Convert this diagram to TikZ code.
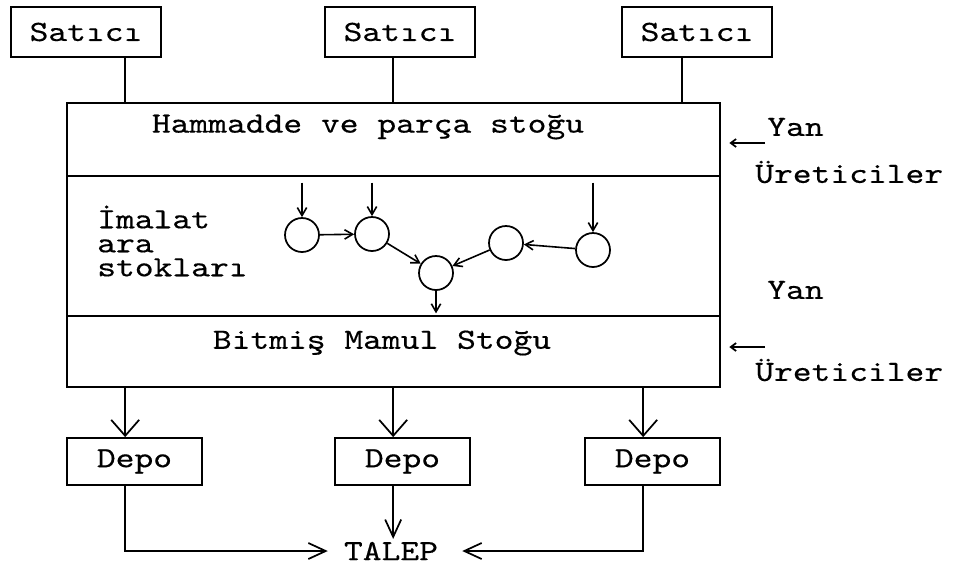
\documentclass[tikz,border=0pt]{standalone}
\usepackage{fontspec}
\setmonofont{lmmono10-regular.otf}[FakeStretch=1.22, FakeBold=0.4]
\usetikzlibrary{arrows.meta,positioning}

\begin{document}
\begin{tikzpicture}[x=0.75pt, y=-0.75pt,
    every node/.style={font=\ttfamily\fontsize{22}{16}\selectfont},
    unit/.style={draw, line width=1.3pt, minimum width=112pt, minimum height=37.5pt, inner sep=0pt},
    stock/.style={draw, line width=1.3pt, minimum width=489.75pt, inner sep=0pt, outer sep=0pt},
    depot/.style={draw, line width=1.3pt, minimum width=101.25pt, minimum height=35.25pt, inner sep=0pt},
    station/.style={draw, circle, line width=1.3pt, minimum size=25.5pt, inner sep=0pt},
    txt/.style={inner sep=0pt, align=left},
    link/.style={line width=1.3pt},
    flow/.style={line width=1.2pt, -{Straight Barb[length=6pt,width=7pt]}},
    side/.style={line width=1.3pt, -{Straight Barb[length=4pt,width=6pt]}},
    ship/.style={line width=1.3pt, -{Straight Barb[length=12pt,width=21pt]}},
    demand/.style={line width=1.3pt, -{Straight Barb[length=13pt,width=12pt]}}]
    \useasboundingbox (0,0) rectangle (966,569);
    % Suppliers
    \node[unit] (satici1) at (86,32) {Satıcı};
    \node[unit] (satici2) at (400,32) {Satıcı};
    \node[unit] (satici3) at (697,32) {Satıcı};
    % Plant: three stacked stock sections
    \node[stock, minimum height=54.75pt] (hammadde) at (393.5,139.5) {};
    \node[stock, minimum height=105pt, below=0pt of hammadde] (imalat) {};
    \node[stock, minimum height=53.25pt, below=0pt of imalat] (mamul) {};
    \node[txt] (hammaddetxt) at (368,127) {Hammadde ve parça stoğu};
    \node[txt, anchor=west, font=\ttfamily\fontsize{22}{18}\selectfont] (imalattxt) at (97,241) {İmalat\\ara\\stokları};
    \node[txt] (mamultxt) at (382,343) {Bitmiş Mamul Stoğu};
    % Supplier lines into raw stock
    \draw[link] ([xshift=29pt]satici1.south) -- ([xshift=29pt]satici1.south |- hammadde.north);
    \draw[link] ([xshift=-5pt]satici2.south) -- ([xshift=-5pt]satici2.south |- hammadde.north);
    \draw[link] ([xshift=-11pt]satici3.south) -- ([xshift=-11pt]satici3.south |- hammadde.north);
    % Work stations
    \node[station] (c1) at (302,235) {};
    \node[station] (c2) at (372,234) {};
    \node[station] (c3) at (436,273) {};
    \node[station] (c4) at (506,243) {};
    \node[station] (c5) at (593,250) {};
    \draw[flow, shorten <=5pt] (c1 |- hammadde.south) -- (c1);
    \draw[flow, shorten <=5pt] (c2 |- hammadde.south) -- (c2);
    \draw[flow, shorten <=5pt] (c5 |- hammadde.south) -- (c5);
    \draw[flow] (c1) -- (c2);
    \draw[flow] (c2) -- (c3);
    \draw[flow] (c5) -- (c4);
    \draw[flow] (c4) -- (c3);
    \draw[flow, shorten >=2pt] (c3) -- (c3 |- mamul.north);
    % Subcontractors
    \node[txt, anchor=west] (yan1) at (767,127) {Yan};
    \node[txt, anchor=west] (uretici1) at (755,172) {Üreticiler};
    \node[txt, anchor=west] (yan2) at (767,290) {Yan};
    \node[txt, anchor=west] (uretici2) at (755,370) {Üreticiler};
    \coordinate (giris1) at (765,143);
    \coordinate (giris2) at (765,347);
    \draw[side, shorten >=7pt] (giris1) -- (giris1 -| hammadde.east);
    \draw[side, shorten >=7pt] (giris2) -- (giris2 -| mamul.east);
    % Warehouses
    \node[depot] (depo1) at (134.5,461.5) {Depo};
    \node[depot] (depo2) at (402.5,461.5) {Depo};
    \node[depot] (depo3) at (652.5,461.5) {Depo};
    \draw[ship] ([xshift=-7pt]depo1.north |- mamul.south) -- ([xshift=-7pt]depo1.north);
    \draw[ship] ([xshift=-7pt]depo2.north |- mamul.south) -- ([xshift=-7pt]depo2.north);
    \draw[ship] ([xshift=-7pt]depo3.north |- mamul.south) -- ([xshift=-7pt]depo3.north);
    % Demand
    \node[txt] (talep) at (391,551) {TALEP};
    \draw[demand, shorten >=12pt] ([xshift=-7pt]depo1.south) |- (talep.west);
    \draw[demand, shorten >=2pt] ([xshift=-7pt]depo2.south) -- ([xshift=-7pt]depo2.south |- talep.north);
    \draw[demand, shorten >=18pt] ([xshift=-7pt]depo3.south) |- (talep.east);
\end{tikzpicture}
\end{document}
